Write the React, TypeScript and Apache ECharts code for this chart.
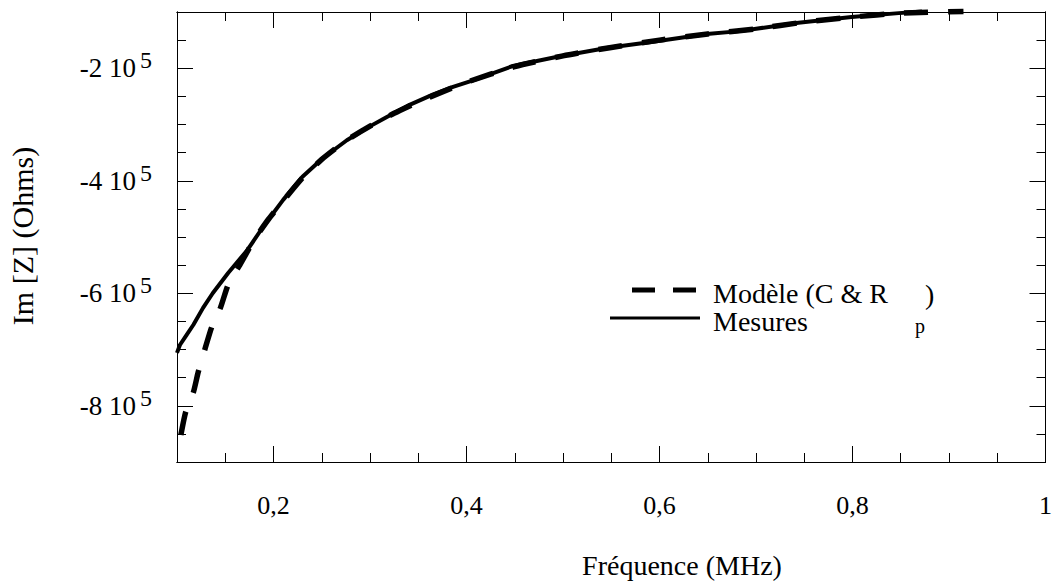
import React, { useEffect, useRef } from "react";
import * as echarts from "echarts";

// Mesures (solid line): frequency in MHz, Im[Z] in Ohms
const freqMesures = [0.100, 0.103, 0.110, 0.117, 0.127, 0.137, 0.153, 0.173, 0.190, 0.210, 0.230, 0.251, 0.276, 0.297, 0.317, 0.341, 0.365, 0.386, 0.406, 0.448, 0.493, 0.545, 0.597, 0.649, 0.683, 0.744, 0.799, 0.848, 0.872];
const imMesures = [-706000, -692000, -674000, -656000, -626000, -600000, -564000, -523000, -480000, -434000, -393000, -360000, -328000, -306000, -287000, -265000, -247000, -233000, -222000, -196000, -180000, -164000, -152000, -139000, -134000, -119000, -109000, -102000, -99000];

// Modèle (C & Rp) (dashed line)
const freqModele = [0.104, 0.109, 0.117, 0.122, 0.129, 0.136, 0.145, 0.153, 0.165, 0.180, 0.195, 0.210, 0.230, 0.250, 0.275, 0.300, 0.325, 0.350, 0.375, 0.400, 0.450, 0.500, 0.550, 0.600, 0.650, 0.700, 0.750, 0.800, 0.850, 0.915];
const imModele = [-852000, -811000, -776000, -740000, -699000, -660000, -626000, -585000, -550000, -505000, -468000, -436000, -395000, -362000, -329000, -303000, -280000, -260000, -242000, -225000, -197000, -178000, -163000, -150000, -139000, -130000, -118000, -109000, -102000, -99000];

// Axis ticks / labels
const xLabelValues = [0.2, 0.4, 0.6, 0.8, 1];
const xMinorValues = [0.15, 0.2, 0.25, 0.3, 0.35, 0.4, 0.45, 0.5, 0.55, 0.6, 0.65, 0.7, 0.75, 0.8, 0.85, 0.9, 0.95];
const yLabelValues = [-800000, -600000, -400000, -200000];
const yMinorValues = [-850000, -800000, -750000, -700000, -650000, -600000, -550000, -500000, -450000, -400000, -350000, -300000, -250000, -200000, -150000];

const FONT = "'Liberation Serif', 'Times New Roman', Times, serif";

export default function App() {
  const ref = useRef<HTMLDivElement>(null);

  useEffect(() => {
    const chart = echarts.init(ref.current as HTMLDivElement, null, { renderer: "svg" });
    const axisLineStyle = { color: "#000", width: 1 };

    const mkX = (position: string, ticks: number[], len: number, withLabels: boolean) => ({
      type: "value",
      position,
      min: 0.1,
      max: 1,
      axisLine: { show: true, onZero: false, lineStyle: axisLineStyle },
      axisTick: { show: true, inside: true, length: len, customValues: ticks, lineStyle: axisLineStyle },
      axisLabel: withLabels
        ? {
            show: true,
            customValues: xLabelValues,
            margin: 30,
            color: "#000",
            fontFamily: FONT,
            fontSize: 26,
            formatter: (v: number) => String(Math.round(v * 10) / 10).replace(".", ","),
          }
        : { show: false },
      splitLine: { show: false },
    });

    const mkY = (position: string, ticks: number[], len: number, withLabels: boolean) => ({
      type: "value",
      position,
      min: -900000,
      max: -100000,
      axisLine: { show: true, onZero: false, lineStyle: axisLineStyle },
      axisTick: { show: true, inside: true, length: len, customValues: ticks, lineStyle: axisLineStyle },
      axisLabel: withLabels
        ? {
            show: true,
            customValues: yLabelValues,
            margin: 25,
            color: "#000",
            formatter: (v: number) => `{m|${Math.round(v / 100000)} 10}{s|5}`,
            rich: {
              m: { fontFamily: FONT, fontSize: 27, color: "#000" },
              s: { fontFamily: FONT, fontSize: 24, color: "#000", padding: [0, 0, 16, 4] },
            },
          }
        : { show: false },
      splitLine: { show: false },
    });

    const option = {
      animation: false,
      backgroundColor: "#fff",
      grid: { left: 177, top: 12, width: 869, height: 450, containLabel: false },
      xAxis: [
        mkX("bottom", xLabelValues, 16, true),
        mkX("bottom", xMinorValues, 9, false),
        mkX("top", xLabelValues, 16, false),
        mkX("top", xMinorValues, 9, false),
      ],
      yAxis: [
        mkY("left", yLabelValues, 16, true),
        mkY("left", yMinorValues, 9, false),
        mkY("right", yLabelValues, 16, false),
        mkY("right", yMinorValues, 9, false),
      ],
      series: [
        {
          name: "Mesures",
          type: "line",
          xAxisIndex: 0,
          yAxisIndex: 0,
          data: freqMesures.map((f, i) => [f, imMesures[i]]),
          symbol: "none",
          clip: false,
          lineStyle: { color: "#000", width: 4 },
        },
        {
          name: "Modèle (C & Rp)",
          type: "line",
          xAxisIndex: 0,
          yAxisIndex: 0,
          data: freqModele.map((f, i) => [f, imModele[i]]),
          symbol: "none",
          clip: false,
          smooth: 0.2,
          lineStyle: { color: "#000", width: 5.5, type: [24, 20], cap: "butt" },
        },
      ],
      graphic: [
        // legend
        { type: "line", shape: { x1: 632, y1: 290, x2: 700, y2: 290 }, style: { stroke: "#000", lineWidth: 5, lineDash: [23, 18] } },
        { type: "line", shape: { x1: 610, y1: 318, x2: 700, y2: 318 }, style: { stroke: "#000", lineWidth: 3 } },
        { type: "text", x: 713, y: 307, style: { text: "Modèle (C & R\nMesures", fontFamily: FONT, fontSize: 28, lineHeight: 28, fill: "#000", textAlign: "left", textVerticalAlign: "middle" } },
        { type: "text", x: 915, y: 326, style: { text: "p", fontFamily: FONT, fontSize: 20, fill: "#000", textAlign: "left", textVerticalAlign: "middle" } },
        { type: "text", x: 925, y: 294, style: { text: ")", fontFamily: FONT, fontSize: 28, fill: "#000", textAlign: "left", textVerticalAlign: "middle" } },
        // axis titles
        { type: "text", x: 682, y: 565, style: { text: "Fréquence (MHz)", fontFamily: FONT, fontSize: 28, fill: "#000", textAlign: "center", textVerticalAlign: "middle" } },
        { type: "text", x: 22, y: 236, rotation: Math.PI / 2, style: { text: "Im [Z] (Ohms)", fontFamily: FONT, fontSize: 30, fill: "#000", textAlign: "center", textVerticalAlign: "middle" } },
      ],
    };

    chart.setOption(option as any);
    return () => chart.dispose();
  }, []);

  return <div ref={ref} style={{ position: "fixed", left: 0, top: 0, width: 1055, height: 585, background: "#fff" }} />;
}
